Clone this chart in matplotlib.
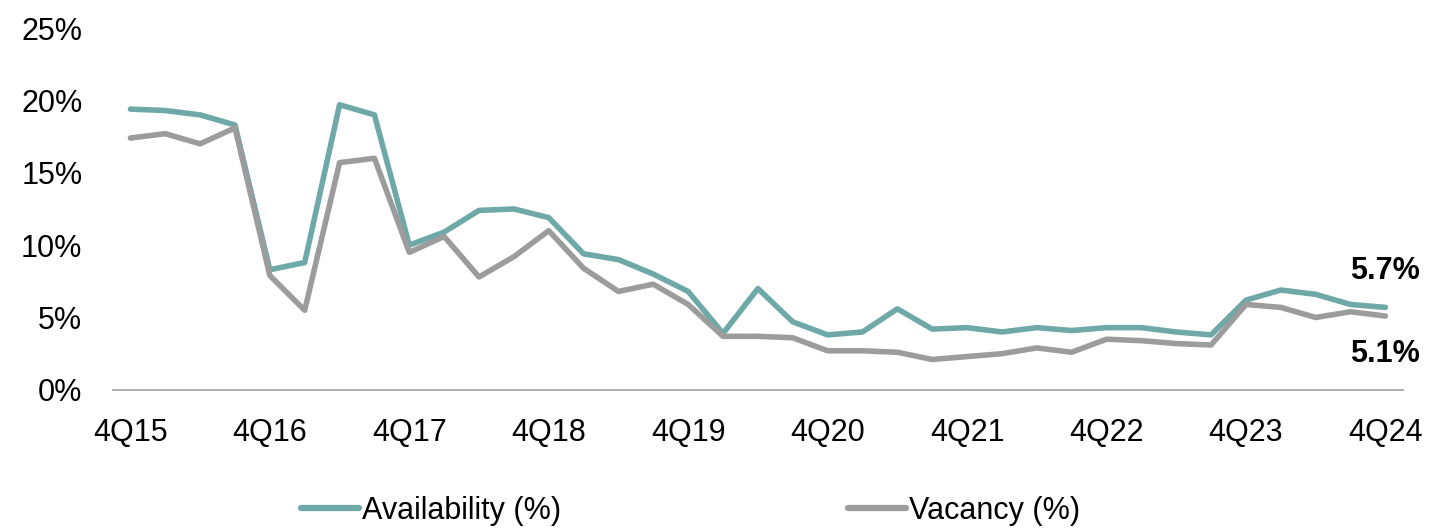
import matplotlib
matplotlib.use('Agg')
import matplotlib.pyplot as plt
from matplotlib.ticker import FuncFormatter

plt.rcParams['font.family'] = ['Liberation Sans', 'DejaVu Sans']

# quarterly series, 4Q15 .. 4Q24
quarters = [f'{q}Q{y}' for y in range(15, 25) for q in (1, 2, 3, 4)][3:]
availability = [19.4, 19.3, 19.0, 18.3, 8.3, 8.8, 19.7, 19.0, 10.0, 10.9,
                12.4, 12.5, 11.9, 9.4, 9.0, 8.0, 6.8, 3.9, 7.0, 4.7,
                3.8, 4.0, 5.6, 4.2, 4.3, 4.0, 4.3, 4.1, 4.3, 4.3,
                4.0, 3.8, 6.2, 6.9, 6.6, 5.9, 5.7]
vacancy = [17.4, 17.7, 17.0, 18.1, 7.9, 5.5, 15.7, 16.0, 9.5, 10.6,
           7.8, 9.2, 11.0, 8.4, 6.8, 7.3, 5.9, 3.7, 3.7, 3.6,
           2.7, 2.7, 2.6, 2.1, 2.3, 2.5, 2.9, 2.6, 3.5, 3.4,
           3.2, 3.1, 5.9, 5.7, 5.0, 5.4, 5.1]

teal = '#6ea9a8'
grey = '#9c9c9c'

fig = plt.figure(figsize=(14.3, 5.29), dpi=100)
ax = fig.add_axes([0.079, 0.263, 0.902, 0.684])

x = range(len(quarters))
ax.plot(x, availability, color=teal, lw=4.0, label='Availability (%)', solid_capstyle='round')
ax.plot(x, vacancy, color=grey, lw=4.0, label='Vacancy (%)', solid_capstyle='round')

ax.set_xlim(-0.5, len(quarters) - 0.5)
ax.set_ylim(0, 25)
ax.set_yticks([0, 5, 10, 15, 20, 25])
ax.yaxis.set_major_formatter(FuncFormatter(lambda v, p: f'{v:.0f}%'))
ticks = list(range(0, len(quarters), 4))
ax.set_xticks(ticks)
ax.set_xticklabels([quarters[i] for i in ticks])
ax.tick_params(axis='both', length=0, labelsize=22)
ax.tick_params(axis='x', pad=20)
ax.tick_params(axis='y', pad=22)

for side in ('top', 'right', 'left'):
    ax.spines[side].set_visible(False)
ax.spines['bottom'].set_color('#a6a6a6')
ax.spines['bottom'].set_linewidth(1.3)

# end-of-series value labels
last = len(quarters) - 1
ax.annotate(f'{availability[-1]:.1f}%', (last, availability[-1]), xytext=(0, 26),
            textcoords='offset points', ha='center', va='center',
            fontsize=22, fontweight='bold')
ax.annotate(f'{vacancy[-1]:.1f}%', (last, vacancy[-1]), xytext=(0, -27),
            textcoords='offset points', ha='center', va='center',
            fontsize=22, fontweight='bold')

leg = fig.legend(loc='center', bbox_to_anchor=(0.483, 0.034), ncol=2, frameon=False,
                 fontsize=22, handlelength=1.9, handletextpad=0.1, columnspacing=9.4)
for line in leg.get_lines():
    line.set_linewidth(4.5)

fig.savefig('out.png', dpi=100, facecolor='white')
